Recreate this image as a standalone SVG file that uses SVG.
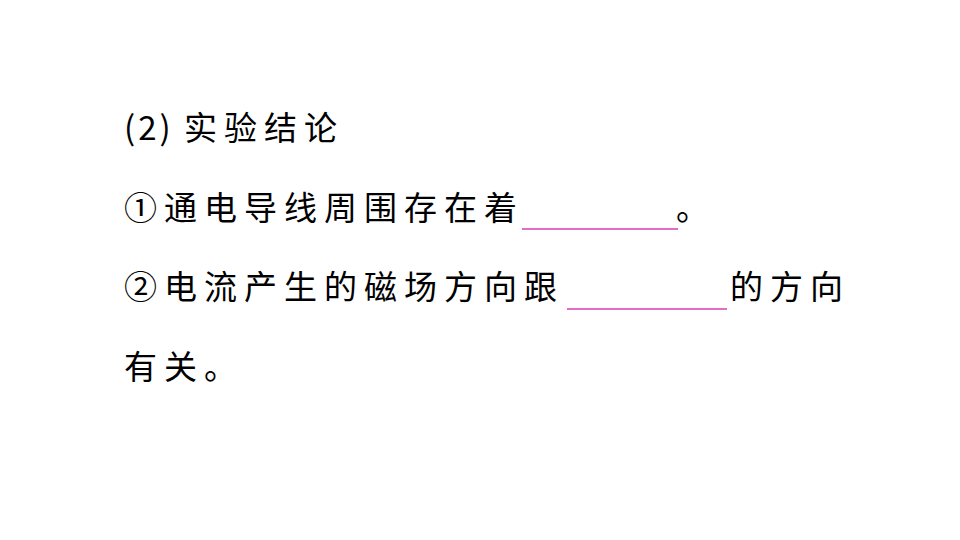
<svg xmlns="http://www.w3.org/2000/svg" width="960" height="540" viewBox="0 0 960 540">
<style>
.t{font-family:"Noto Sans CJK SC","Noto Sans",sans-serif;font-size:33px;fill:#000;letter-spacing:7px}
.u{stroke:#d63fb0;stroke-width:1.3}
</style>
<rect width="960" height="540" fill="#fff"/>
<g id="line1"><text class="t" x="124" y="140" style="letter-spacing:3px">(2)</text><text class="t" x="184" y="140">实验结论</text></g>
<g id="line2"><text class="t" x="124" y="220">①通电导线周围存在着</text><line class="u" x1="522" y1="229" x2="678" y2="229"/><text class="t" x="676" y="220">。</text></g>
<g id="line3"><text class="t" x="124" y="299">②电流产生的磁场方向跟</text><line class="u" x1="567" y1="309" x2="727" y2="309"/><text class="t" x="730" y="299">的方向</text></g>
<g id="line4"><text class="t" x="124" y="379">有关。</text></g>
</svg>
